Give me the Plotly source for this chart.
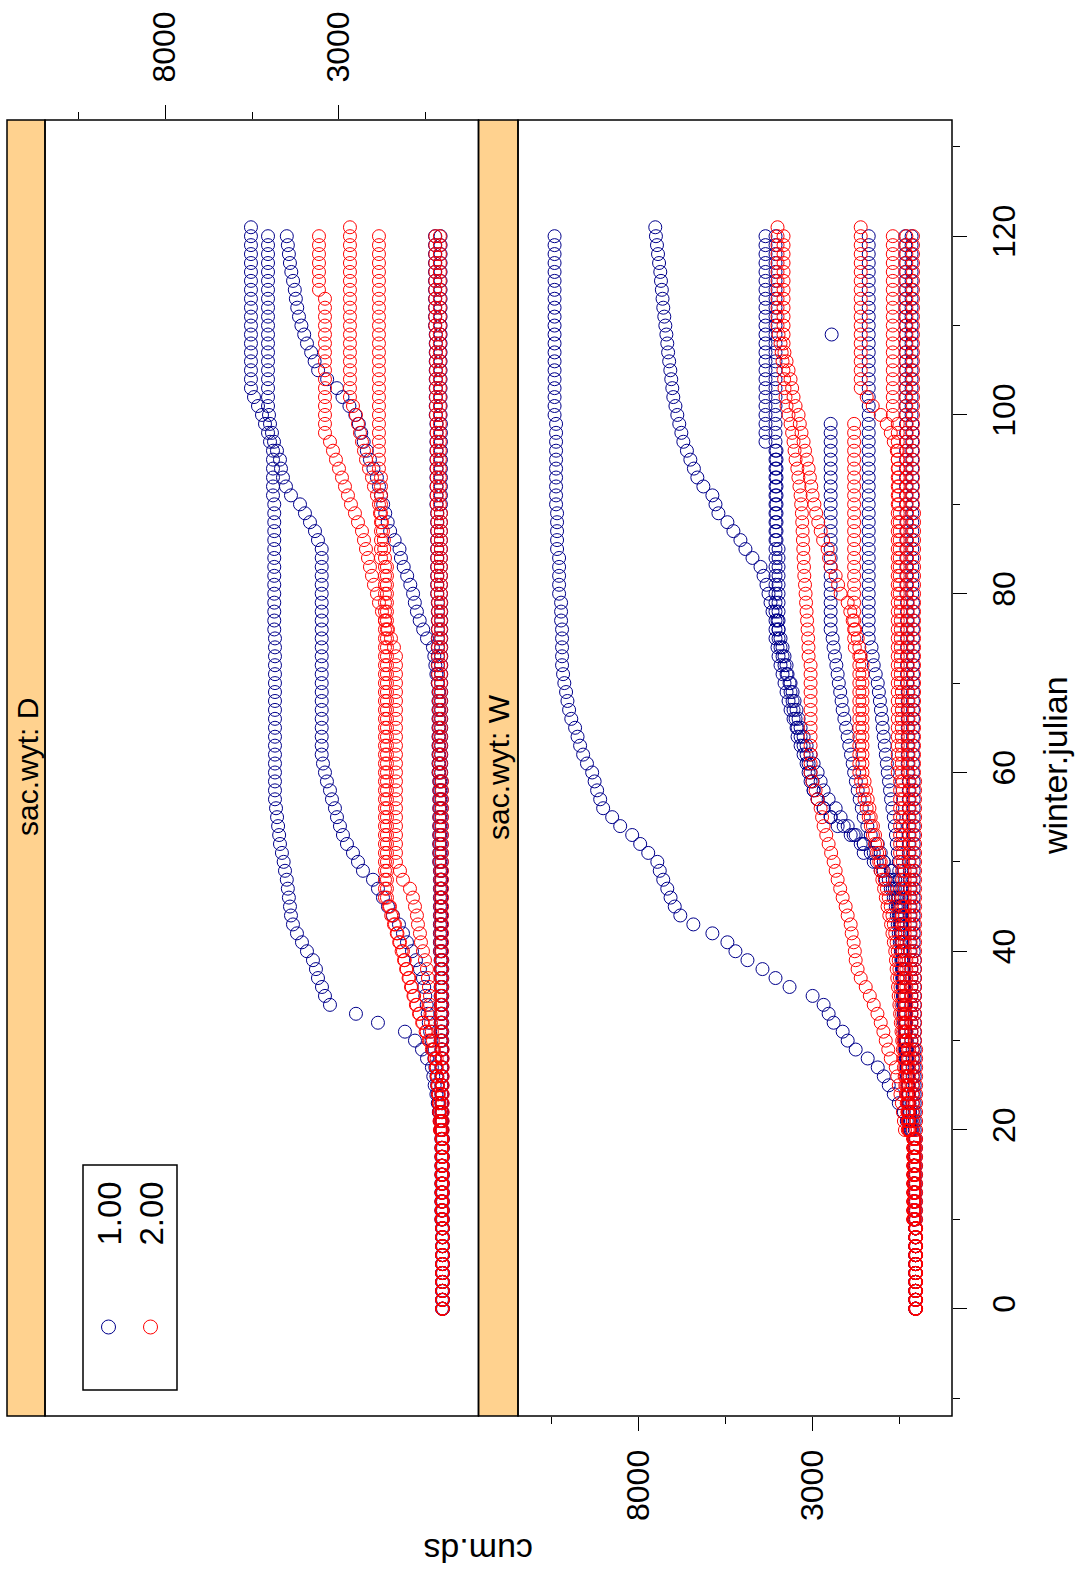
import plotly.graph_objects as go

# ---------------- data (cum.ds by winter.julian day; index = day) ----------------
winter_julian = list(range(0, 122))

# panel "sac.wyt: D", group 1.00
d_b1 = [20]*10 + [40]*10 + [80,100,130,160,200,250,290] + [330,470,615,816,1104,1880,2512,3259,3403,3489,3604,3662,3748,3920,4064,4208,4323,4380,4409,4440,4470,4500,4552,4590,4640,4696,4720,4750,4780,4810] + [4840]*19 + [4860]*15 + [4897]*6 + [4983,5040,5127,5213,5328,5443] + [5530]*19
d_b2 = [40]*10 + [60]*10 + [80,100,120,140,160,180,200,230,260,300] + [340,380,420,450] + [480,520,550,586,672,788,902,1046,1161,1276,1449,1592,1736,1880,2023,2311,2454,2598,2771,2886,2972,3058,3116,3202,3259,3346,3403,3460] + [3497]*24 + [3604,3690,3834,3978,4121,4380,4524,4610,4667,4696,4782,4868,4926,4983,5012] + [5040]*20
d_b3 = [20]*10 + [40]*20 + [60]*20 + [90]*10 + [120]*10 + [160,200,230,260] + [300,470,580,680,760,820,870,950,1040,1140,1220,1260,1400,1530,1600,1670,1730,1790,1850,1910,2010,2110,2200,2290,2360,2430,2530,2700,2900,3060,3340,3600,3700,3800,3920,4000,4080,4150,4200,4240,4270,4320,4370,4410,4440,4470,4500]
d_b4 = [30]*10 + [40]*10 + [60]*10 + [80]*10 + [100]*10 + [120]*10 + [140]*10 + [160]*10 + [180]*10 + [200]*10 + [220]*10 + [240]*11
d_b5 = [10]*20 + [30]*20 + [50]*20 + [60]*20 + [70]*20 + [80]*21

# panel "sac.wyt: D", group 2.00
d_r1 = [30]*10 + [50]*10 + [70,90,110,130,150,170,190,210] + [240,270,300,330,355,370,380] + [385,414,443,471,529,586,644,673,730,759,816,874,960,1161,1247] + [1362]*24 + [1420,1506,1592,1678,1765,1851,1909,1995,2052,2110,2167,2224,2282,2339,2454,2541,2656,2742,2828,2914,3000,3087,3173,3259] + [3403]*16 + [3575]*7
d_r2 = [30]*10 + [50]*10 + [70,80,95,110,130,150,170,190] + [193,290,385,480,586,680,766,840,909,980,1051,1110,1161,1247,1320,1391,1460,1535] + [1678]*39 + [1700,1710,1736,1765,1822,1851,1909,1995,2052,2138,2224,2282,2339,2397,2454,2512,2598] + [2685]*20
d_r3 = [30]*10 + [50]*10 + [100,110,120,135,150,165,180] + [200,250,330,420,510,610,700,790,860,930,1000,1070,1130,1200,1270,1340,1420,1500,1560] + [1621]*38 + [1793]*10 + [1851]*27
d_r4 = [20]*10 + [30]*10 + [50]*10 + [70]*10 + [90]*10 + [110]*10 + [130]*10 + [150]*10 + [170]*10 + [190]*10 + [210]*10 + [230]*11
d_r5 = [20]*30 + [40]*30 + [70]*30 + [100]*31

# panel "sac.wyt: W", group 1.00
w_b1 = [40]*10 + [90]*10 + [180,288,374,518,662,806,949,1122,1410,1755,1985,2129,2388,2532,2676,2992,3654,4057,4431,4862,5207,5438,5869,6416,6790] + [6950,7070,7164,7280,7380,7450,7711,7942,8171,8516,8746,9005,9090,9178,9250,9321,9470,9580,9667,9740,9811,9920,9983,10030,10070,10120,10156] + [10185]*5 + [10213]*3 + [10270]*5 + [10328]*5 + [10357]*10 + [10400]*21
w_b2 = [40]*10 + [80]*10 + [200,210,220,230,240,250,260,270,280,290] + [300,310,320,330,340,350,360,380,400,420] + [430,440,450,460,470,490,520] + [560,620,719,949,1237,1525,1813,2100,2474,2676,2848,2963,3050,3107,3165,3251,3337,3424,3453,3481,3539,3567,3625,3654,3711,3740,3798,3855,3913,3970,3999,4143,4200,4258,4316,4400,4488,4718,4920,5064,5265,5438,5696,5780,5869,6128,6301,6400,6502,6600,6703,6760,6820,6876,6930,6991,7020,7050,7077,7110,7140,7164,7190,7220,7250,7279,7300,7320,7345,7365,7400,7430,7460,7490,7509]
w_b3 = [40]*10 + [80]*10 + [210,220,230,240,250,260,270,280,290,300] + [320,330,340,350,360,370,380,390,400,410] + [420,440,460,490,518,547,604,690,806,950,1150,1323,1525,1755,1985,2187,2330,2532,2676,2762,2848,2963,3050,3165,3251,3337,3395,3453,3510,3567,3625,3740,3798,3855,3913] + [3970]*11 + [4028]*11 + [4344]*24
w_b4 = [40]*10 + [90]*10 + [200,210,220,235,250,265,280,295,310,320] + [330,345,360,375,390,400,410,420,430,445] + [460,490,518,547,575,604,662,748,892,1036,1237,1525,1611,1899,2273,2474,2676,2848,2963,2992,3050,3107,3165,3251,3337,3424,3539,3625,3683,3740,3798,3855,3913,3970,3999] + [4057]*46
w_b5 = [30]*10 + [70]*10 + [150,170,190,210,230,250,270,290,310,330] + [340,350,360,370,380,390,395,400,403] + [403,420,430,445,460,490,518,547,630,690,748,949,1036,1122,1323,1420,1525,1580,1640,1697,1750,1800,1841,1890,1940,1985,2030,2080,2129,2160,2200,2240,2273,2310,2350,2390,2417] + [2474]*24 + [None]*9 + [2445] + [None]*11
w_b6 = [40]*10 + [90]*10 + [190,200,210,220,230,240,250,260,270,280] + [290,300,310,320,330,340,350,360,375,390] + [403,410,420,430,440,450,460,475,490,505] + [518,547,575,600,630,662,700,740,770,800,834,860,890,920,950,980,1000,1030,1060,1090,1122,1180,1237,1266,1300] + [1381]*46
w_b7 = [40]*10 + [70]*10 + [120]*10 + [160]*10 + [200]*10 + [230]*10 + [260]*10 + [280]*10 + [300]*10 + [310]*10 + [320]*11 + [330]*10
w_b8 = [30]*20 + [60]*20 + [90]*20 + [110]*20 + [130]*20 + [150]*21

# panel "sac.wyt: W", group 2.00
w_r1 = [40]*10 + [100]*10 + [340,370,400,430,470,518,560,604,748,820] + [892,960,1036,1130,1237,1350,1467,1611,1700,1755] + [1780,1813,1870,1899,1985,2043,2129,2200,2273,2330] + [2388,2460,2532,2600,2676,2720,2762,2850,2906,3000] + [3050]*13 + [3107,3110,3120,3136,3150,3165,3180,3193,3210,3230] + [3240,3251,3260,3270,3280,3290,3300,3320,3337,3370] + [3400,3430,3481,3510,3539,3580,3625,3683,3740,3770] + [3798,3810,3830,3855,3880,3913,3970] + [3999]*12
w_r2 = [40]*10 + [90]*10 + [200,220,240,260,280,300,320,330,345,360] + [380,395,410,425,440,455,470,485,500,520] + [547,580,620,660,700,748,806,860,920,980] + [1036,1080,1140,1200,1260,1323,1360,1410,1460,1500] + [1560]*13 + [1611,1650,1697,1770,1841,1910,1985,2187,2260,2330] + [2474,2520,2561,2690,2760,2830,2890,2940,2992,3030] + [3070,3107,3160,3210,3251,3310,3360,3395,3481,3539] + [3580,3625,3683,3740,3800] + [3826]*13
w_r3 = [40]*10 + [90]*10 + [220]*10 + [300]*10 + [350]*10 + [400]*10 + [430]*10 + [460]*10 + [490]*10 + [518]*4 + [530,547,575,662,748,863,1036,1266,1439] + [1611]*19
w_r4 = [40]*10 + [100]*10 + [260]*10 + [350]*10 + [420]*10 + [480]*10 + [547]*40 + [690]*21
w_r5 = [30]*10 + [80]*10 + [230,250,270,290,310,330,350,370,385,400] + [420,440,460,480,500,520,540,560,580,600] + [620,660,700,740,790,840,890,940,990,1040] + [1080,1140,1200,1260,1320,1380,1440,1500,1550,1600] + [1650]*14 + [1780] + [1800]*25 + [None]*21
w_r6 = [30]*10 + [60]*10 + [110]*10 + [150]*10 + [180]*10 + [210]*10 + [240]*10 + [260]*10 + [280]*10 + [290]*10 + [300]*21
w_r7 = [20]*30 + [50]*30 + [80]*30 + [110]*31

panels = ["sac.wyt: D", "sac.wyt: W"]
groups = ["1.00", "2.00"]
group_colors = {"1.00": "#00008B", "2.00": "#FF0000"}
series = [
    ("x",  "1.00", [d_b1, d_b2, d_b3, d_b4, d_b5]),
    ("x2", "1.00", [w_b1, w_b2, w_b3, w_b4, w_b5, w_b6, w_b7, w_b8]),
    ("x",  "2.00", [d_r1, d_r2, d_r3, d_r4, d_r5]),
    ("x2", "2.00", [w_r1, w_r2, w_r3, w_r4, w_r5, w_r6, w_r7]),
]
cum_ticks_major = [3000, 8000]
cum_ticks_minor = [500, 5500, 10500]
day_ticks_major = [0, 20, 40, 60, 80, 100, 120]
day_ticks_minor = [-10, 10, 30, 50, 70, 90, 110, 130]

# ---------------- figure ----------------
FONT = "Liberation Sans, Arial, Helvetica, sans-serif"
TICK_SIZE = 32
fig = go.Figure()
for xa, g, lst in series:
    for vals in lst:
        fig.add_trace(go.Scatter(
            x=vals, y=winter_julian[:len(vals)], xaxis=xa, yaxis="y",
            mode="markers",
            marker=dict(symbol="circle-open", size=13, color=group_colors[g],
                        line=dict(width=1, color=group_colors[g])),
            showlegend=False, hoverinfo="skip"))

L, R, T, B = 45, 952, 120, 1416
W_PLOT, H_PLOT = R - L, B - T
def px(xp):
    return (xp - L) / W_PLOT
def py(yp):
    return (B - yp) / H_PLOT

d_dom = [0, px(478.5)]
w_dom = [px(518), 1]

cum_axis = dict(
    range=[11450, -1010], tickmode="array",
    tickvals=cum_ticks_major, ticktext=[str(v) for v in cum_ticks_major],
    ticks="outside", ticklen=14, tickwidth=1, tickcolor="black",
    tickangle=-90, tickfont=dict(size=TICK_SIZE, family=FONT, color="black"),
    showgrid=False, zeroline=False, showline=False, fixedrange=True,
    minor=dict(tickmode="array", tickvals=cum_ticks_minor, ticks="outside",
               ticklen=7, tickwidth=1, tickcolor="black", showgrid=False),
)

fig.update_layout(
    width=1079, height=1571,
    margin=dict(l=L, r=1079 - R, t=T, b=1571 - B),
    paper_bgcolor="white", plot_bgcolor="white",
    font=dict(family=FONT, size=31, color="black"),
    showlegend=False,
    xaxis=dict(domain=d_dom, anchor="y", side="top", ticklabelstandoff=16, **cum_axis),
    xaxis2=dict(domain=w_dom, anchor="y", side="bottom", ticklabelstandoff=6, **cum_axis),
    yaxis=dict(domain=[0, 1], anchor="x2", side="right", range=[-12.0, 133.0],
               tickmode="array", tickvals=day_ticks_major,
               ticktext=[str(v) for v in day_ticks_major],
               ticks="outside", ticklen=14, tickwidth=1, tickcolor="black",
               tickangle=-90, ticklabelstandoff=10,
               tickfont=dict(size=TICK_SIZE, family=FONT, color="black"),
               showgrid=False, zeroline=False, showline=False, fixedrange=True,
               minor=dict(tickmode="array", tickvals=day_ticks_minor, ticks="outside",
                          ticklen=7, tickwidth=1, tickcolor="black", showgrid=False)),
)

STRIP = "#FFD28F"
shapes = []
# strips
shapes.append(dict(type="rect", xref="paper", yref="paper", x0=px(7), x1=0, y0=0, y1=1,
                   fillcolor=STRIP, line=dict(color="black", width=1.5), layer="below"))
shapes.append(dict(type="rect", xref="paper", yref="paper", x0=d_dom[1], x1=w_dom[0], y0=0, y1=1,
                   fillcolor=STRIP, line=dict(color="black", width=1.5), layer="below"))
# panel borders
for dom in (d_dom, w_dom):
    shapes.append(dict(type="rect", xref="paper", yref="paper", x0=dom[0], x1=dom[1], y0=0, y1=1,
                       line=dict(color="black", width=1.5), fillcolor="rgba(0,0,0,0)", layer="above"))
# legend box
shapes.append(dict(type="rect", xref="paper", yref="paper", x0=px(83), x1=px(177), y0=py(1390), y1=py(1165),
                   line=dict(color="black", width=1.5), fillcolor="white", layer="above"))
for g, xc in zip(groups, (108.5, 150.5)):
    shapes.append(dict(type="circle", xref="paper", yref="paper", xsizemode="pixel", ysizemode="pixel",
                       xanchor=px(xc), yanchor=py(1327), x0=-7, x1=7, y0=-7, y1=7,
                       line=dict(color=group_colors[g], width=1), fillcolor="rgba(0,0,0,0)", layer="above"))
fig.update_layout(shapes=shapes)

ann = []
for name, xc in zip(panels, (27, 498)):
    ann.append(dict(text=name, xref="paper", yref="paper", x=px(xc), y=py(767), showarrow=False,
                    textangle=-90, font=dict(size=30, family=FONT, color="black"),
                    xanchor="center", yanchor="middle"))
for g, xc in zip(groups, (108.5, 150.5)):
    ann.append(dict(text=g, xref="paper", yref="paper", x=px(xc), y=py(1214), showarrow=False,
                    textangle=-90, font=dict(size=33, family=FONT, color="black"),
                    xanchor="center", yanchor="middle"))
ann.append(dict(text="winter.julian", xref="paper", yref="paper", x=px(1055), y=py(766), showarrow=False,
                textangle=-90, font=dict(size=34, family=FONT, color="black"),
                xanchor="center", yanchor="middle"))
ann.append(dict(text="cum.ds", xref="paper", yref="paper", x=px(478), y=py(1551), showarrow=False,
                textangle=180, font=dict(size=34, family=FONT, color="black"),
                xanchor="center", yanchor="middle"))
fig.update_layout(annotations=ann)

fig.write_html("out.html", config={"displayModeBar": False, "staticPlot": True},
               post_script="document.body.style.margin='0px';document.body.style.overflow='hidden';")
